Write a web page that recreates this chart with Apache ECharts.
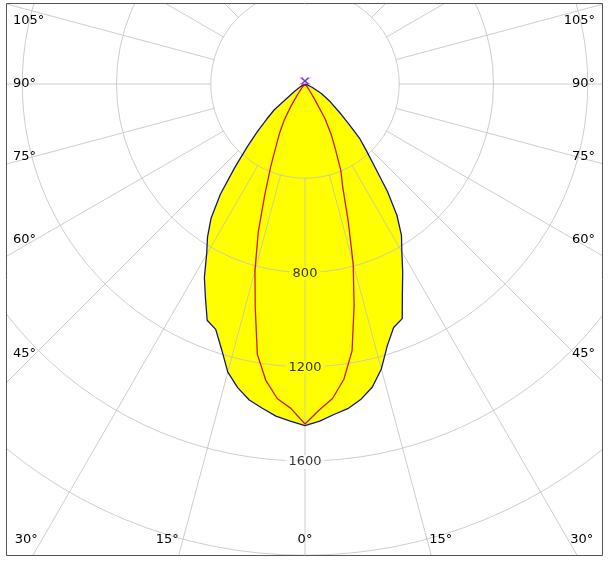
<!DOCTYPE html>
<html>
<head>
<meta charset="utf-8">
<script src="https://cdn.jsdelivr.net/npm/echarts@6/dist/echarts.min.js"></script>
<style>
  html, body { margin: 0; padding: 0; background: #fff; }
  #chart { width: 613px; height: 562px; }
</style>
</head>
<body>
<div id="chart"></div>
<script>
// ---- data (cd/klm vs. gamma angle, measured from nadir) ----
const gammaAngles = [0, 2.5, 5, 7.5, 10, 12.5, 15, 17.5, 20, 22.5, 25, 27.5, 30, 32.5, 35, 37.5, 40, 42.5, 45, 47.5, 50, 55, 60, 65, 70, 75, 80, 85, 90];
// C0-C180 plane (blue, filled)
const blueLeft  = [1450, 1432, 1415, 1388, 1362, 1320, 1266, 1179, 1108, 1085, 1000, 925, 835, 770, 695, 590, 465, 365, 285, 220, 170, 55, 20, 8, 3, 0, 0, 0, 0];
const blueRight = [1450, 1432, 1408, 1390, 1360, 1318, 1252, 1163, 1100, 1078, 978, 898, 822, 762, 680, 575, 463, 388, 330, 255, 200, 130, 80, 35, 12, 3, 0, 0, 0];
// C90-C270 plane (red)
const redLeft   = [1443, 1378, 1341, 1270, 1165, 975, 821, 660, 498, 381, 290, 232, 175, 110, 55, 30, 18, 10, 6, 3, 2, 0, 0, 0, 0, 0, 0, 0, 0];
const redRight  = [1443, 1385, 1340, 1264, 1150, 963, 790, 610, 470, 397, 305, 240, 170, 70, 30, 15, 8, 5, 3, 1, 0, 0, 0, 0, 0, 0, 0, 0, 0];
// grid
const ringValues = [400, 800, 1200, 1600, 2000, 2400];
const ringLabels = [800, 1200, 1600];
const spokeAngles = [0, 15, 30, 45, 60, 75, 90, 105, 120, 135, 150, 165, 180, 195, 210, 225, 240, 255, 270, 285, 300, 315, 330, 345];
const angleLabels = [0, 15, 30, 45, 60, 75, 90, 105];

// ---- layout ----
const CENTER = [305, 84];
const PX_PER_CD = 94.25 / 400;
const RMAX = 2400;
const FRAME = { x0: 6, y0: 3, x1: 602, y1: 555 };
const FONT_FAMILY = '"DejaVu Sans", Verdana, sans-serif';
const FONT = '13px ' + FONT_FAMILY;
const GRID_COLOR = 'rgba(192,192,192,0.8)';

function plane(left, right) {
  const pts = [];
  for (let i = 0; i < gammaAngles.length; i++) pts.push([left[i], gammaAngles[i]]);
  for (let i = gammaAngles.length - 1; i >= 0; i--) pts.push([right[i], 360 - gammaAngles[i]]);
  return pts;
}
const bluePts = plane(blueLeft, blueRight);
const redPts = plane(redLeft, redRight);

const series = [];
// filled area
series.push({
  type: 'line', coordinateSystem: 'polar', data: bluePts, symbol: 'none', silent: true,
  lineStyle: { width: 0, opacity: 0 }, areaStyle: { color: '#ffff00', opacity: 1 }, z: 1, animation: false
});
// spokes (from first ring outward)
spokeAngles.forEach(a => {
  series.push({
    type: 'line', coordinateSystem: 'polar', symbol: 'none', silent: true, animation: false,
    data: [[ringValues[0], a], [RMAX, a]],
    lineStyle: { color: GRID_COLOR, width: 1 }, z: 3
  });
});
// outlines
series.push({
  type: 'line', coordinateSystem: 'polar', data: bluePts, symbol: 'none', silent: true, animation: false,
  lineStyle: { color: '#14148a', width: 1.3 }, z: 4
});
series.push({
  type: 'line', coordinateSystem: 'polar', data: redPts, symbol: 'none', silent: true, animation: false,
  lineStyle: { color: '#d01818', width: 1.3 }, z: 4
});
// cross marker at the pole
series.push({
  type: 'scatter', coordinateSystem: 'polar', data: [[0, 0]], silent: true, animation: false,
  symbol: 'path://M0,0L10,8M0,8L10,0', symbolSize: [11, 7], symbolOffset: [0, -3],
  itemStyle: { color: 'none', borderColor: '#ff50c8', borderWidth: 1.1 }, z: 5
});
series.push({
  type: 'scatter', coordinateSystem: 'polar', data: [[0, 0]], silent: true, animation: false,
  symbol: 'path://M0,0L10,10M0,10L10,0', symbolSize: [7, 7], symbolOffset: [0, -3],
  itemStyle: { color: 'none', borderColor: '#2a2ad0', borderWidth: 1.4 }, z: 5
});
// ring value labels on the 0° axis
series.push({
  type: 'scatter', coordinateSystem: 'polar', silent: true, animation: false, symbolSize: 0, z: 6,
  data: ringLabels.map(v => ({
    value: [v, 0],
    label: { backgroundColor: v < blueLeft[0] ? '#ffff00' : '#ffffff' }
  })),
  label: {
    show: true, position: 'inside', offset: [0, 1],
    formatter: p => String(p.value[0]),
    color: '#000', fontSize: 13, fontFamily: FONT_FAMILY,
    padding: [1, 3, 0, 3]
  }
});

// frame + mask outside it
const graphics = [];
const white = '#ffffff';
graphics.push({ type: 'rect', shape: { x: 0, y: 0, width: 613, height: FRAME.y0 }, style: { fill: white }, z: 100, silent: true });
graphics.push({ type: 'rect', shape: { x: 0, y: FRAME.y1, width: 613, height: 562 - FRAME.y1 }, style: { fill: white }, z: 100, silent: true });
graphics.push({ type: 'rect', shape: { x: 0, y: 0, width: FRAME.x0, height: 562 }, style: { fill: white }, z: 100, silent: true });
graphics.push({ type: 'rect', shape: { x: FRAME.x1, y: 0, width: 613 - FRAME.x1, height: 562 }, style: { fill: white }, z: 100, silent: true });
graphics.push({ type: 'rect', shape: { x: FRAME.x0 + 0.5, y: FRAME.y0 + 0.5, width: FRAME.x1 - FRAME.x0, height: FRAME.y1 - FRAME.y0 },
  style: { fill: 'none', stroke: '#555', lineWidth: 1 }, z: 101, silent: true });

// angle labels placed along their spokes near the frame
const SIDE_X = 35, BOTTOM_Y = 540, TEXT_INSET = 7, MIN_Y = 21;
function addText(text, x, y, align) {
  graphics.push({ type: 'text', z: 102, silent: true,
    style: { text, x, y, font: FONT, fill: '#000', align, verticalAlign: 'middle' } });
}
angleLabels.forEach(g => {
  const rad = g * Math.PI / 180;
  const txt = g + '°';
  if (g === 0) { addText(txt, CENTER[0], BOTTOM_Y, 'center'); return; }
  const dx = Math.sin(rad), dy = Math.cos(rad);
  const t = (CENTER[0] - SIDE_X) / dx;
  const ySide = CENTER[1] + t * dy;
  if (ySide > BOTTOM_Y) {
    const tb = (BOTTOM_Y - CENTER[1]) / dy;
    const xOff = tb * dx;
    addText(txt, CENTER[0] - xOff - 4, BOTTOM_Y, 'right');
    addText(txt, CENTER[0] + xOff + 2, BOTTOM_Y, 'left');
  } else {
    const y = Math.max(MIN_Y, ySide);
    addText(txt, FRAME.x0 + TEXT_INSET, y, 'left');
    addText(txt, FRAME.x1 - TEXT_INSET, y, 'right');
  }
});

const chart = echarts.init(document.getElementById('chart'), null, { renderer: 'canvas' });
chart.setOption({
  animation: false,
  backgroundColor: '#ffffff',
  polar: { center: CENTER, radius: RMAX * PX_PER_CD },
  angleAxis: {
    type: 'value', min: 0, max: 360, startAngle: 270, clockwise: true,
    axisLine: { show: false }, axisTick: { show: false }, axisLabel: { show: false }, splitLine: { show: false }
  },
  radiusAxis: {
    type: 'value', min: 0, max: RMAX, interval: ringValues[1] - ringValues[0], z: 3,
    axisLine: { show: false }, axisTick: { show: false }, axisLabel: { show: false },
    splitLine: { show: true, lineStyle: { color: GRID_COLOR, width: 1 } }
  },
  series,
  graphic: { elements: graphics }
});
</script>
</body>
</html>
